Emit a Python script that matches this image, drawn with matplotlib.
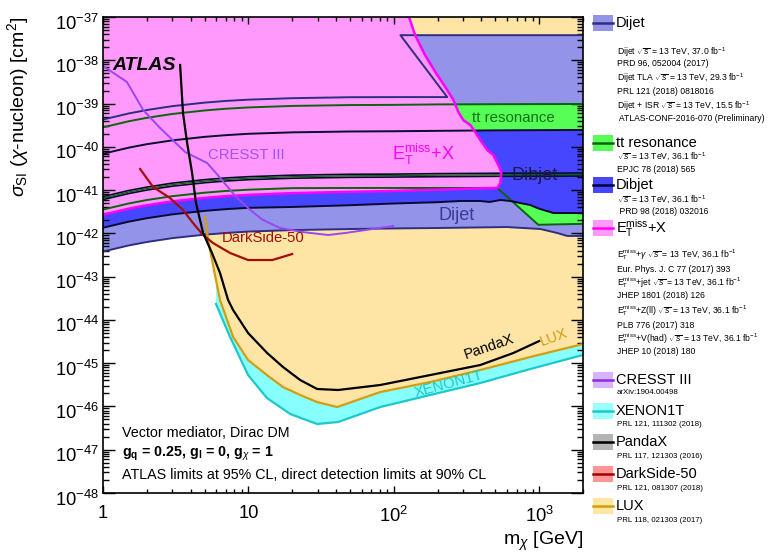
import matplotlib
matplotlib.use("Agg")
import matplotlib.pyplot as plt
import numpy as np
from matplotlib.patches import Rectangle
from matplotlib.lines import Line2D
from matplotlib.ticker import LogLocator, NullFormatter
from matplotlib.transforms import ScaledTranslation

plt.rcParams["font.family"] = ["Liberation Sans", "DejaVu Sans"]
plt.rcParams["mathtext.fontset"] = "custom"
plt.rcParams["mathtext.rm"] = "Liberation Sans"
plt.rcParams["mathtext.it"] = "Liberation Sans:italic"
plt.rcParams["mathtext.bf"] = "Liberation Sans:bold"

# ---- ATLAS collider limits (m_chi [GeV], sigma_SI [cm^2]) ----
grid_m = [1, 1.5, 2, 3, 5, 7, 10, 20, 50, 100, 200, 500, 1000, 2000]

# dijet + ISR lower edge, closing diagonal and top edge
dijet_isr_m = [1, 1.5, 2, 3, 5, 7, 10, 20, 50, 100, 233, 111, 2000]
dijet_isr_s = [4.27e-40, 5.89e-40, 7.08e-40, 8.71e-40, 1.05e-39, 1.15e-39, 1.23e-39,
               1.33e-39, 1.40e-39, 1.41e-39, 1.41e-39, 3.80e-38, 3.80e-38]
# dijet lower edge
dijet_low_m = [1, 1.5, 2, 3, 5, 7, 10, 20, 50, 100, 200, 600, 1020, 1330, 1560, 2000]
dijet_low_s = [3.80e-43, 5.25e-43, 6.31e-43, 7.76e-43, 9.33e-43, 1.02e-42, 1.10e-42,
               1.19e-42, 1.26e-42, 1.30e-42, 1.33e-42, 1.40e-42, 1.26e-42, 1.02e-42,
               8.71e-43, 8.71e-43]

tt_hi_s = [2.82e-40, 3.89e-40, 4.68e-40, 5.75e-40, 6.92e-40, 7.59e-40, 8.13e-40,
           8.81e-40, 9.23e-40, 9.33e-40, 9.55e-40, 9.66e-40, 9.72e-40, 9.77e-40]
tt_lo_m = [1, 1.5, 2, 3, 5, 7, 10, 20, 50, 100, 200, 515, 985, 2000]
tt_lo_s = [3.55e-42, 4.90e-42, 5.89e-42, 7.24e-42, 8.71e-42, 9.55e-42, 1.02e-41,
           1.11e-41, 1.12e-41, 1.12e-41, 1.12e-41, 1.12e-41, 1.58e-42, 1.66e-42]

dibjet_hi_s = [6.92e-41, 9.55e-41, 1.15e-40, 1.41e-40, 1.70e-40, 1.86e-40, 2.00e-40,
               2.16e-40, 2.26e-40, 2.29e-40, 2.34e-40, 2.40e-40, 2.43e-40, 2.45e-40]
dibjet_lo_m = [1, 1.5, 2, 3, 5, 7, 10, 20, 50, 100, 200, 287, 393, 455, 540, 632,
               741, 868, 970, 1067, 1192, 1250, 2000]
dibjet_lo_s = [1.35e-42, 1.86e-42, 2.24e-42, 2.75e-42, 3.31e-42, 3.63e-42, 3.89e-42,
               4.07e-42, 4.47e-42, 4.90e-42, 5.25e-42, 5.60e-42, 5.60e-42, 5.31e-42,
               5.90e-42, 5.60e-42, 5.02e-42, 4.52e-42, 3.85e-42, 3.47e-42, 3.11e-42,
               2.95e-42, 2.95e-42]

# thin outlines crossing the bands
edge_a_s = [7.08e-42, 9.77e-42, 1.17e-41, 1.45e-41, 1.74e-41, 1.91e-41, 2.04e-41,
            2.21e-41, 2.32e-41, 2.34e-41, 2.40e-41, 2.45e-41, 2.47e-41, 2.48e-41]
edge_b_s = [6.03e-42, 8.32e-42, 1.00e-41, 1.23e-41, 1.48e-41, 1.62e-41, 1.74e-41,
            1.88e-41, 1.97e-41, 2.00e-41, 2.04e-41, 2.08e-41, 2.10e-41, 2.11e-41]
edge_g_s = [6.53e-42, 9.02e-42, 1.08e-41, 1.34e-41, 1.61e-41, 1.76e-41, 1.88e-41,
            2.04e-41, 2.14e-41, 2.16e-41, 2.21e-41, 2.26e-41, 2.28e-41, 2.29e-41]

etmiss_m = [1, 1.5, 2, 3, 5, 7, 10, 20, 50, 100, 200, 400, 515, 540, 548, 523, 483,
            439, 393, 363, 336, 300, 278, 257, 226, 193, 164, 140, 128, 126]
etmiss_s = [2.69e-42, 3.72e-42, 4.47e-42, 5.50e-42, 6.61e-42, 7.24e-42, 7.76e-42,
            8.51e-42, 9.12e-42, 9.55e-42, 1.02e-41, 1.10e-41, 1.12e-41, 1.46e-41,
            2.62e-41, 3.80e-41, 6.47e-41, 8.43e-41, 1.44e-40, 2.20e-40, 3.19e-40,
            4.17e-40, 6.37e-40, 1.21e-39, 2.41e-39, 5.36e-39, 1.32e-38, 3.84e-38,
            9.48e-38, 1.0e-37]

# ---- direct detection limits ----
lux_m = [5.04, 5.28, 5.62, 6.38, 7.85, 9.95, 13.4, 17.3, 22.7, 29.7, 40.8, 80.6,
         178, 393, 868, 2000]
lux_s = [2.39e-42, 7.02e-43, 2.42e-43, 2.88e-44, 4.03e-45, 1.18e-45, 5.32e-46,
         2.81e-46, 1.84e-46, 1.26e-46, 9.70e-47, 2.15e-46, 3.67e-46, 6.95e-46,
         1.39e-45, 2.77e-45]

xenon_m = [5.99, 7.48, 9.95, 13.4, 19.4, 29.7, 41.4, 80.6, 178, 393, 868, 2000]
xenon_s = [2.33e-44, 4.03e-45, 5.32e-46, 1.57e-46, 6.68e-47, 3.93e-47, 4.37e-47,
           9.70e-47, 1.84e-46, 3.48e-46, 7.33e-46, 1.55e-45]

pandax_m = [3.39, 3.55, 3.79, 4.10, 4.36, 4.88, 5.62, 6.38, 7.25, 7.85, 9.95, 13.45,
            17.3, 22.7, 29.7, 41.4, 80.6, 178, 393, 664, 1000]
pandax_s = [7.78e-39, 6.04e-40, 1.22e-40, 2.48e-41, 5.02e-42, 1.02e-42, 3.50e-43,
            1.21e-43, 2.88e-44, 1.69e-44, 4.98e-45, 1.72e-45, 8.15e-46, 4.08e-46,
            2.53e-46, 2.40e-46, 3.13e-46, 5.32e-46, 9.06e-46, 1.72e-45, 3.25e-45]

darkside_m = [1.80, 2.21, 2.89, 3.55, 4.16, 4.88, 5.71, 7.48, 9.95, 14.6, 20.0]
darkside_s = [3.07e-41, 1.18e-41, 6.56e-42, 3.47e-42, 1.73e-42, 9.16e-43, 5.98e-43,
              3.52e-43, 2.42e-43, 2.42e-43, 3.33e-43]

cresst_m = [1.0, 1.46, 1.89, 2.47, 3.67, 5.20, 5.99, 8.23, 10.3, 12.6, 16.5, 23.7,
            35.4, 46.3, 99]
cresst_s = [7.38e-39, 3.15e-39, 7.10e-40, 2.72e-40, 7.59e-41, 4.23e-41, 2.48e-41,
            6.92e-42, 3.47e-42, 2.04e-42, 1.33e-42, 1.07e-42, 9.16e-43, 1.02e-42,
            1.48e-42]

# colours
c_dijet, c_dijet_l = "#9393ea", "#2e2e80"
c_tt, c_tt_l = "#55ff55", "#0b640b"
c_dibjet, c_dibjet_l = "#4646ff", "#0a0a30"
c_etmiss, c_etmiss_l = "#ff99fc", "#ff00ff"
c_lux, c_lux_l = "#fee5a6", "#d19e10"
c_xenon, c_xenon_l = "#88ffff", "#1ec8c8"
c_cresst = "#9a46f5"
c_darkside = "#a50d0d"

W, H = 770, 554
fig = plt.figure(figsize=(W / 100, H / 100), dpi=100)
ax = fig.add_axes([103 / W, 1 - 493 / H, 480 / W, 476 / H])
ax.set_xscale("log")
ax.set_yscale("log")
XMIN, XMAX, YMIN, YMAX = 1, 2000, 1e-48, 1e-37

# direct detection exclusion fills
ax.fill(xenon_m + [XMAX, xenon_m[0]], xenon_s + [YMAX, YMAX], color=c_xenon, lw=0, zorder=1)
ax.fill(lux_m + [XMAX, lux_m[0]], lux_s + [YMAX, YMAX], color=c_lux, lw=0, zorder=1.1)

# collider fills
ax.fill(dijet_low_m + dijet_isr_m[::-1], dijet_low_s + dijet_isr_s[::-1],
        color=c_dijet, lw=0, zorder=1.2)
ax.fill(grid_m + tt_lo_m[::-1], tt_hi_s + tt_lo_s[::-1], color=c_tt, lw=0, zorder=1.3)
ax.fill(grid_m + dibjet_lo_m[::-1], dibjet_hi_s + dibjet_lo_s[::-1],
        color=c_dibjet, lw=0, zorder=1.4)
ax.fill(etmiss_m + [XMIN], etmiss_s + [YMAX], color=c_etmiss, lw=0, zorder=1.5)

# collider outlines
ax.plot(dijet_isr_m, dijet_isr_s, color=c_dijet_l, lw=1.4, zorder=3)
ax.plot(dijet_low_m, dijet_low_s, color=c_dijet_l, lw=1.4, zorder=3)
ax.plot(grid_m, tt_hi_s, color=c_tt_l, lw=1.4, zorder=3)
ax.plot(tt_lo_m, tt_lo_s, color=c_tt_l, lw=1.4, zorder=3)
ax.plot(grid_m, dibjet_hi_s, color=c_dibjet_l, lw=1.4, zorder=3)
ax.plot(dibjet_lo_m, dibjet_lo_s, color=c_dibjet_l, lw=1.4, zorder=3)
ax.plot(grid_m, edge_a_s, color=c_dibjet_l, lw=1.2, zorder=3)
ax.plot(grid_m, edge_b_s, color=c_dibjet_l, lw=1.2, zorder=3)
ax.plot(grid_m, edge_g_s, color=c_tt_l, lw=0.9, zorder=3)
ax.plot(etmiss_m, etmiss_s, color=c_etmiss_l, lw=1.8, zorder=3.1)

# direct detection curves
ax.plot(xenon_m, xenon_s, color=c_xenon_l, lw=1.6, zorder=4)
ax.plot(lux_m, lux_s, color=c_lux_l, lw=1.6, zorder=4)
ax.plot(cresst_m, cresst_s, color=c_cresst, lw=1.4, zorder=4)
ax.plot(darkside_m, darkside_s, color=c_darkside, lw=1.6, zorder=4)
ax.plot(pandax_m, pandax_s, color="black", lw=1.6, zorder=4.1)

ax.set_xlim(XMIN, XMAX)
ax.set_ylim(YMIN, YMAX)

# ROOT-style ticks
ax.yaxis.set_major_locator(LogLocator(base=10, numticks=100))
ax.yaxis.set_minor_locator(LogLocator(base=10, subs=np.arange(2, 10), numticks=100))
ax.yaxis.set_minor_formatter(NullFormatter())
ax.set_xticks([1, 10, 100, 1000])
ax.set_xticklabels(["1", "10", "$10^{2}$", "$10^{3}$"])
ax.xaxis.set_minor_locator(LogLocator(base=10, subs=np.arange(2, 10), numticks=100))
ax.xaxis.set_minor_formatter(NullFormatter())
ax.tick_params(which="both", direction="in", top=True, right=True, width=1.0,
               labelsize=13.2)
ax.tick_params(axis="y", which="major", length=8.6, pad=3)
ax.tick_params(axis="y", which="minor", length=4.3)
ax.tick_params(axis="x", which="major", length=5.0, pad=9)
ax.tick_params(axis="x", which="minor", length=2.6)
for sp in ax.spines.values():
    sp.set_linewidth(1.2)
    sp.set_zorder(5)

# nudge y tick labels down a little, as in ROOT
fig.canvas.draw()
shift = ScaledTranslation(0, -4.5 / 100, fig.dpi_scale_trans)
for tick in ax.yaxis.get_major_ticks():
    tick.label1.set_transform(tick.label1.get_transform() + shift)

fig.text(18 / W, 1 - 17 / H, r"$\sigma_{\mathrm{SI}}$ ($\chi$-nucleon) [cm$^{2}$]",
         rotation=90, ha="center", va="top", fontsize=14)
fig.text(583 / W, 1 - 541 / H, r"m$_{\chi}$ [GeV]", ha="right", va="center", fontsize=14)

# in-plot labels
tkw = dict(transform=ax.transAxes, zorder=6)
ax.text(0.019, 0.899, "ATLAS", fontsize=14, fontweight="bold", style="italic",
        va="center", **tkw)
ax.text(0.219, 0.710, "CRESST III", fontsize=10.7, color="#a152f2", va="center", **tkw)
ax.text(0.248, 0.536, "DarkSide-50", fontsize=10.7, color=c_darkside, va="center", **tkw)
ax.text(0.602, 0.700, r"$\mathrm{E_{T}^{miss}}$+X", fontsize=13, color=c_etmiss_l,
        va="baseline", **tkw)
ax.text(0.854, 0.788, "tt resonance", fontsize=10.8, color="#16701a", ha="center",
        va="center", **tkw)
ax.text(0.900, 0.668, "Dibjet", fontsize=13, color="#1a1a48", ha="center", va="center", **tkw)
ax.text(0.7375, 0.582, "Dijet", fontsize=13, color="#3a3a98", ha="center", va="center", **tkw)
ax.text(0.804, 0.307, "PandaX", fontsize=10.5, rotation=19, rotation_mode="anchor",
        ha="center", va="center", **tkw)
ax.text(0.940, 0.326, "LUX", fontsize=10.5, color=c_lux_l, rotation=20,
        rotation_mode="anchor", ha="center", va="center", **tkw)
ax.text(0.721, 0.229, "XENON1T", fontsize=10.7, color=c_xenon_l, rotation=15,
        rotation_mode="anchor", ha="center", va="center", **tkw)

ax.text(0.040, 0.126, "Vector mediator, Dirac DM", fontsize=10.3, va="center", **tkw)
ax.text(0.040, 0.083, r"g$_{\mathbf{q}}$ = 0.25, g$_{\mathbf{l}}$ = 0, g$_{\chi}$ = 1",
        fontsize=10.3, fontweight="bold", va="center", **tkw)
ax.text(0.040, 0.037, "ATLAS limits at 95% CL, direct detection limits at 90% CL",
        fontsize=10.3, va="center", **tkw)

# legend column on the right
legend_names = ["Dijet", "tt resonance", "Dibjet", r"$\mathrm{E_{T}^{miss}}$+X",
                "CRESST III", "XENON1T", "PandaX", "DarkSide-50", "LUX"]
legend_faces = [c_dijet, c_tt, c_dibjet, c_etmiss, "#d8b4ff", "#9cffff", "#b4b4b4",
                "#ff9595", "#ffe6a2"]
legend_lines = [c_dijet_l, c_tt_l, "#000038", c_etmiss_l, "#8a2be2", c_xenon_l,
                "black", "#a00000", c_lux_l]
legend_y = [23, 143, 185, 228, 380, 411, 442, 474, 506]

rt = r"$\sqrt{s}$ = 13 TeV"
em = r"$\mathrm{E_{T}^{miss}}$"
atlas_refs = [
    (52, "Dijet " + rt + ", 37.0 fb$^{-1}$"),
    (64, "PRD 96, 052004 (2017)"),
    (78, "Dijet TLA " + rt + ", 29.3 fb$^{-1}$"),
    (92, "PRL 121 (2018) 0818016"),
    (106, "Dijet + ISR " + rt + ", 15.5 fb$^{-1}$"),
    (119, " ATLAS-CONF-2016-070 (Preliminary)"),
    (157, rt + ", 36.1 fb$^{-1}$"),
    (169, "EPJC 78 (2018) 565"),
    (200, rt + ", 36.1 fb$^{-1}$"),
    (212, " PRD 98 (2018) 032016"),
    (255, em + r"+$\gamma$ " + rt + ", 36.1 fb$^{-1}$"),
    (269, "Eur. Phys. J. C 77 (2017) 393"),
    (283, em + "+jet " + rt + ", 36.1 fb$^{-1}$"),
    (296, "JHEP 1801 (2018) 126"),
    (311, em + "+Z(ll) " + rt + ", 36.1 fb$^{-1}$"),
    (325, "PLB 776 (2017) 318"),
    (339, em + "+V(had) " + rt + ", 36.1 fb$^{-1}$"),
    (352, "JHEP 10 (2018) 180"),
]
dd_refs = [
    (393, "arXiv:1904.00498"),
    (424, "PRL 121, 111302 (2018)"),
    (456, "PRL 117, 121303 (2016)"),
    (488, "PRL 121, 081307 (2018)"),
    (520, "PRL 118, 021303 (2017)"),
]

for name, face, line, yc in zip(legend_names, legend_faces, legend_lines, legend_y):
    fig.add_artist(Rectangle((593 / W, 1 - (yc + 8) / H), 20 / W, 16 / H,
                             transform=fig.transFigure, facecolor=face, edgecolor="none"))
    fig.add_artist(Line2D([593 / W, 613 / W], [1 - yc / H, 1 - yc / H],
                          transform=fig.transFigure, color=line, lw=1.8))
    fig.text(616 / W, 1 - yc / H, name, fontsize=10.5, va="center")

for yc, txt in atlas_refs:
    fig.text(617 / W, 1 - yc / H, txt, fontsize=6.2, va="center")
for yc, txt in dd_refs:
    fig.text(617 / W, 1 - yc / H, txt, fontsize=5.7, va="center")

fig.savefig("out.png", dpi=100)
